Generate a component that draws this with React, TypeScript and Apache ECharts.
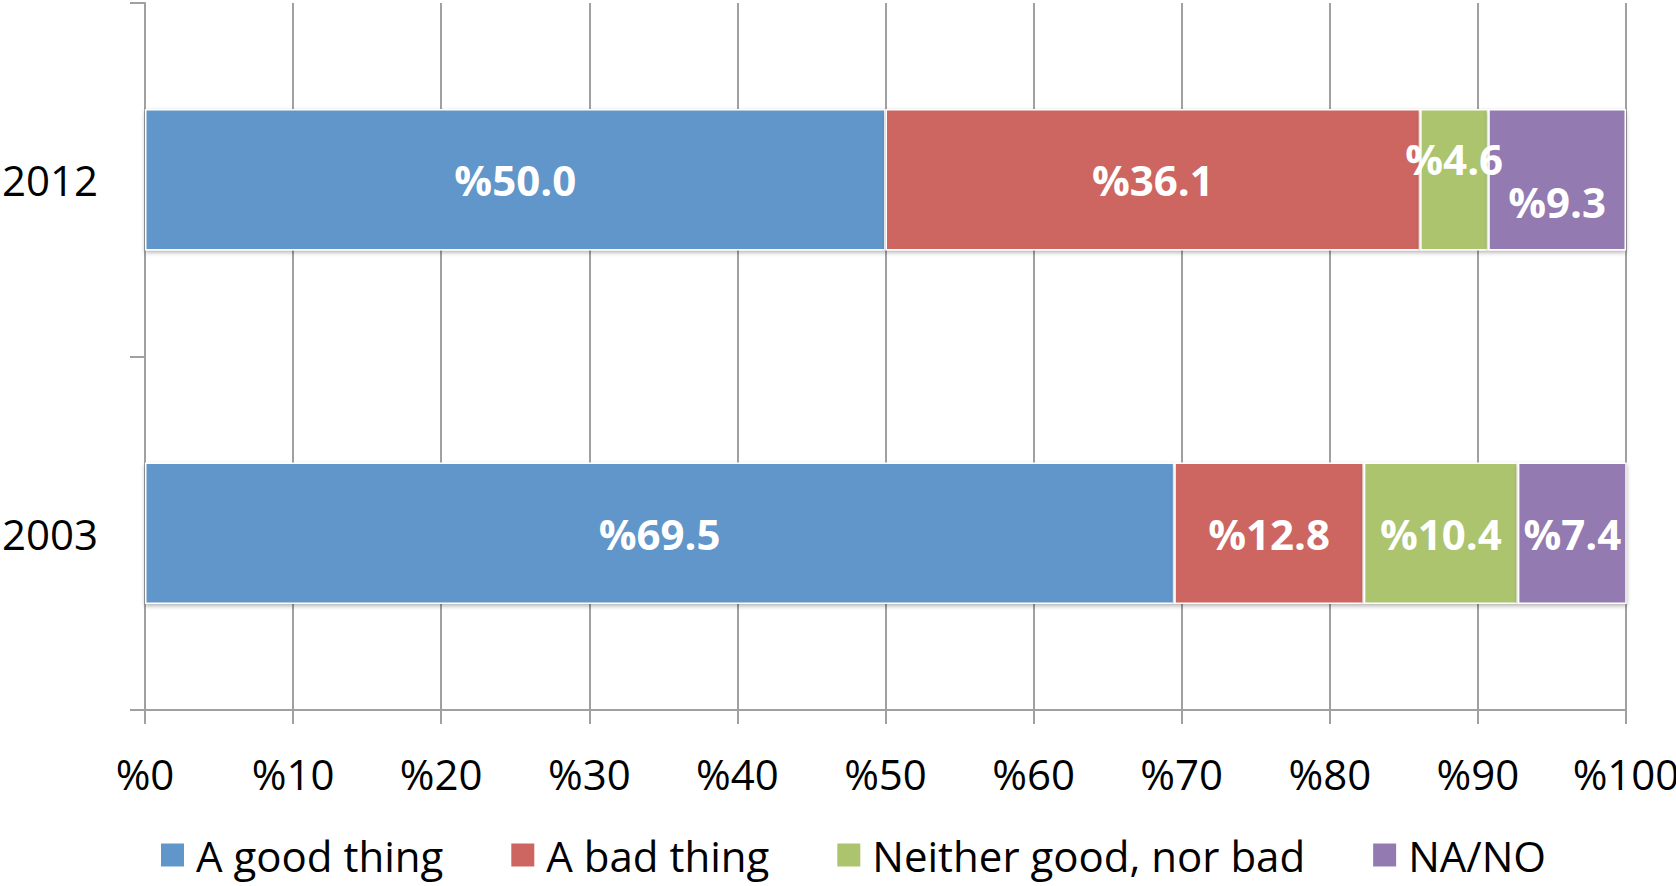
import React, { useEffect, useRef } from "react";
import * as echarts from "echarts";

const categories = ["2003", "2012"];
const seriesNames = ["A good thing", "A bad thing", "Neither good, nor bad", "NA/NO"];
const goodValues = [69.5, 50.0];
const badValues = [12.8, 36.1];
const neitherValues = [10.4, 4.6];
const naValues = [7.4, 9.3];
const xTicks = [0, 10, 20, 30, 40, 50, 60, 70, 80, 90, 100];

const colors = ["#6096C9", "#CD6660", "#ABC46D", "#937AB1"];
const FONT = "'Open Sans', 'Noto Sans', sans-serif";

export default function App() {
  const ref = useRef<HTMLDivElement>(null);
  useEffect(() => {
    if (!ref.current) return;
    const chart = echarts.init(ref.current, null, { renderer: "svg" });
    const allValues = [goodValues, badValues, neitherValues, naValues];
    const labelOffsets: Record<string, number[]> = {
      "2-1": [0, -21],
      "3-1": [0, 22],
    };
    const series = seriesNames.map((name, si) => ({
      name,
      type: "bar",
      stack: "total",
      barWidth: "40%",
      itemStyle: {
        color: colors[si],
        borderColor: "#ffffff",
        borderWidth: 1.5,
        shadowBlur: 4,
        shadowColor: "rgba(0,0,0,0.3)",
        shadowOffsetY: 2,
      },
      label: {
        show: true,
        position: "inside",
        color: "#ffffff",
        fontFamily: FONT,
        fontWeight: "bold",
        fontSize: 42,
        formatter: (p: any) => "%" + Number(p.value).toFixed(1),
      },
      data: allValues[si].map((v, ci) => {
        const off = labelOffsets[si + "-" + ci];
        return off ? { value: v, label: { offset: off } } : { value: v };
      }),
    }));
    chart.setOption({
      animation: false,
      backgroundColor: "#ffffff",
      grid: {
        left: 145,
        right: 50,
        top: 3,
        bottom: 176,
        containLabel: false,
        outerBoundsMode: "none",
      },
      legend: {
        data: seriesNames,
        left: 159,
        top: 834,
        padding: 0,
        itemWidth: 25,
        itemHeight: 25,
        itemGap: 66,
        icon: "rect",
        textStyle: { fontFamily: FONT, fontSize: 42, color: "#000", padding: [0, 0, 0, 6] },
      },
      xAxis: {
        type: "value",
        min: xTicks[0],
        max: xTicks[xTicks.length - 1],
        interval: xTicks[1] - xTicks[0],
        axisLine: { show: true, lineStyle: { color: "#a0a0a0", width: 2 } },
        axisTick: { show: true, length: 14, lineStyle: { color: "#a0a0a0", width: 2 } },
        splitLine: { show: true, lineStyle: { color: "#a0a0a0", width: 2 } },
        axisLabel: {
          margin: 42,
          fontFamily: FONT,
          fontSize: 42,
          color: "#000",
          formatter: (v: number) => "%" + v,
        },
      },
      yAxis: {
        type: "category",
        data: categories,
        axisLine: { show: true, lineStyle: { color: "#a0a0a0", width: 2 } },
        axisTick: { show: true, length: 15, interval: 0, lineStyle: { color: "#a0a0a0", width: 2 } },
        splitLine: { show: false },
        axisLabel: { margin: 47, fontFamily: FONT, fontSize: 42, color: "#000" },
      },
      series,
    });
    return () => chart.dispose();
  }, []);
  return (
    <div
      ref={ref}
      style={{ position: "fixed", left: 0, top: 0, width: 1676, height: 886 }}
    />
  );
}
